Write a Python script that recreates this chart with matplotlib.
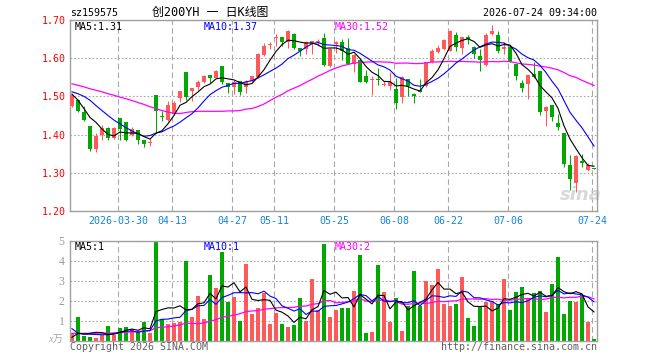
import numpy as np
import pandas as pd
import matplotlib
matplotlib.use("Agg")
import matplotlib.pyplot as plt

# daily bars for 159575, 2026-03-18 .. 2026-07-24
holidays = ["2026-04-06", "2026-05-01", "2026-05-04", "2026-05-05", "2026-06-19"]
dates = [d for d in pd.bdate_range("2026-03-18", "2026-07-24").strftime("%Y-%m-%d") if d not in holidays]

opens = [1.474, 1.490, 1.458, 1.422, 1.363, 1.400, 1.418, 1.392, 1.443, 1.432,
         1.400, 1.411, 1.385, 1.379, 1.503, 1.448, 1.438, 1.453, 1.497, 1.564,
         1.515, 1.524, 1.537, 1.556, 1.549, 1.580, 1.535, 1.525, 1.540, 1.524,
         1.540, 1.551, 1.609, 1.634, 1.654, 1.656, 1.642, 1.663, 1.626, 1.625,
         1.637, 1.643, 1.654, 1.579, 1.637, 1.642, 1.626, 1.584, 1.595, 1.553,
         1.542, 1.545, 1.531, 1.528, 1.519, 1.498, 1.546, 1.505, 1.516, 1.526,
         1.589, 1.616, 1.623, 1.619, 1.661, 1.626, 1.656, 1.630, 1.607, 1.582,
         1.663, 1.660, 1.623, 1.630, 1.586, 1.535, 1.533, 1.558, 1.567, 1.461,
         1.477, 1.430, 1.404, 1.321, 1.274, 1.330, 1.307, 1.313]
highs = [1.505, 1.493, 1.474, 1.422, 1.405, 1.426, 1.421, 1.421, 1.443, 1.432,
         1.420, 1.411, 1.385, 1.390, 1.503, 1.461, 1.488, 1.489, 1.514, 1.564,
         1.522, 1.543, 1.556, 1.556, 1.570, 1.580, 1.535, 1.543, 1.540, 1.543,
         1.554, 1.614, 1.640, 1.642, 1.663, 1.656, 1.675, 1.667, 1.626, 1.646,
         1.644, 1.651, 1.665, 1.626, 1.644, 1.649, 1.653, 1.612, 1.596, 1.570,
         1.553, 1.574, 1.540, 1.563, 1.547, 1.553, 1.546, 1.509, 1.546, 1.591,
         1.625, 1.635, 1.649, 1.675, 1.668, 1.656, 1.660, 1.633, 1.623, 1.665,
         1.686, 1.670, 1.642, 1.630, 1.586, 1.542, 1.556, 1.589, 1.567, 1.474,
         1.477, 1.453, 1.404, 1.346, 1.347, 1.349, 1.326, 1.313]
lows = [1.471, 1.459, 1.436, 1.356, 1.354, 1.386, 1.386, 1.389, 1.386, 1.382,
        1.396, 1.375, 1.367, 1.370, 1.403, 1.435, 1.435, 1.451, 1.486, 1.490,
        1.489, 1.518, 1.535, 1.535, 1.547, 1.532, 1.508, 1.505, 1.504, 1.510,
        1.537, 1.549, 1.607, 1.625, 1.633, 1.632, 1.626, 1.625, 1.607, 1.611,
        1.612, 1.633, 1.579, 1.578, 1.614, 1.594, 1.584, 1.563, 1.537, 1.535,
        1.503, 1.530, 1.526, 1.516, 1.467, 1.484, 1.500, 1.482, 1.512, 1.525,
        1.588, 1.614, 1.621, 1.618, 1.619, 1.612, 1.637, 1.600, 1.567, 1.580,
        1.661, 1.614, 1.612, 1.589, 1.542, 1.512, 1.493, 1.549, 1.451, 1.423,
        1.435, 1.411, 1.314, 1.256, 1.251, 1.314, 1.305, 1.309]
closes = [1.503, 1.461, 1.438, 1.362, 1.396, 1.416, 1.391, 1.417, 1.414, 1.385,
          1.414, 1.386, 1.375, 1.381, 1.462, 1.447, 1.477, 1.484, 1.514, 1.499,
          1.522, 1.539, 1.553, 1.548, 1.567, 1.537, 1.525, 1.539, 1.512, 1.539,
          1.553, 1.612, 1.633, 1.636, 1.655, 1.642, 1.670, 1.626, 1.618, 1.642,
          1.644, 1.644, 1.581, 1.623, 1.642, 1.619, 1.586, 1.609, 1.539, 1.539,
          1.543, 1.543, 1.532, 1.537, 1.482, 1.551, 1.526, 1.500, 1.512, 1.589,
          1.619, 1.628, 1.647, 1.672, 1.630, 1.656, 1.649, 1.612, 1.596, 1.661,
          1.672, 1.619, 1.630, 1.591, 1.553, 1.523, 1.556, 1.551, 1.458, 1.471,
          1.445, 1.419, 1.322, 1.285, 1.345, 1.325, 1.320, 1.311]
volumes = [0.37, 1.18, 0.23, 0.18, 0.15, 0.27, 0.73, 0.30, 0.63, 0.68,
           0.57, 0.42, 0.93, 0.38, 5.00, 1.07, 0.83, 0.90, 0.93, 4.00,
           1.20, 2.23, 1.10, 3.30, 2.63, 4.45, 1.93, 2.20, 1.00, 3.85,
           1.35, 1.65, 2.40, 0.85, 1.40, 0.83, 0.70, 0.80, 2.13, 1.00,
           3.08, 1.52, 4.83, 1.18, 1.53, 1.63, 1.63, 2.48, 4.28, 0.38,
           0.43, 3.78, 2.43, 0.93, 2.13, 0.48, 1.73, 3.48, 1.73, 2.98,
           2.78, 3.58, 1.83, 1.73, 1.83, 3.18, 1.13, 0.73, 1.68, 1.93,
           1.98, 1.83, 3.08, 1.53, 2.43, 2.68, 2.13, 2.38, 2.48, 1.43,
           2.83, 4.18, 1.33, 1.98, 1.93, 2.28, 0.93, 0.08]

# moving-average values before enough bars are on screen
ma5_head = [1.506, 1.490, 1.468, 1.445]
ma10_head = [1.512, 1.507, 1.500, 1.490, 1.476, 1.463, 1.450, 1.438, 1.428]
ma30_head = [1.533, 1.529, 1.525, 1.520, 1.516, 1.512, 1.507, 1.503, 1.498, 1.494,
             1.489, 1.484, 1.479, 1.473, 1.468, 1.463, 1.459, 1.456, 1.455, 1.458,
             1.460, 1.461, 1.461, 1.461, 1.461, 1.461, 1.462, 1.462, 1.463]
vma5_head = [0.17, 0.37, 0.33, 0.37]
vma10_head = [0.60, 0.38, 0.33, 0.32, 0.31, 0.30, 0.30, 0.36, 0.42]
vma30_head = [0.37, 0.37, 0.37, 0.37, 0.37, 0.38, 0.38, 0.39, 0.40, 0.42,
              0.44, 0.46, 0.48, 0.50, 0.65, 0.67, 0.70, 0.73, 0.80, 0.87,
              0.87, 0.85, 0.88, 0.98, 1.05, 1.17, 1.22, 1.28, 1.35]

tick_dates = ["2026-03-30", "2026-04-13", "2026-04-27", "2026-05-11", "2026-05-25",
              "2026-06-08", "2026-06-22", "2026-07-06", "2026-07-24"]

RED = "#ff5a5a"
GREEN = "#00a800"
GRAY = "#a8a8a8"
MONO = ["DejaVu Sans Mono", "Noto Sans CJK SC"]


def moving_avg(values, n, head):
    s = pd.Series(values).rolling(n).mean().to_numpy()
    s[:n - 1] = head
    return s


def trunc(v, digits):
    k = 10 ** digits
    return int(v * k + 1e-9) / k


o = np.array(opens)
c = np.array(closes)
x = np.arange(len(closes))
colors = np.where(c >= o, RED, GREEN)

ma5 = moving_avg(closes, 5, ma5_head)
ma10 = moving_avg(closes, 10, ma10_head)
ma30 = moving_avg(closes, 30, ma30_head)
vma5 = moving_avg(volumes, 5, vma5_head)
vma10 = moving_avg(volumes, 10, vma10_head)
vma30 = moving_avg(volumes, 30, vma30_head)

W, H = 660, 360
fig = plt.figure(figsize=(W / 100, H / 100), dpi=100)


def px_axes(l, t, r, b):
    return fig.add_axes([l / W, 1 - b / H, (r - l) / W, (b - t) / H])


def px_text(px, py, s, **kw):
    fig.text(px / W, 1 - py / H, s, **kw)


ax = px_axes(70.3, 20, 597, 211)
axv = px_axes(70.3, 240.7, 597, 340.7)

tick_pos = [dates.index(d) - 0.3 for d in tick_dates]
tick_labels = [tick_dates[0]] + [d[5:] for d in tick_dates[1:]]

for a in (ax, axv):
    a.set_xlim(-0.28, 87.5)
    a.set_xticks(tick_pos)
    a.tick_params(length=0)
    a.grid(True, axis="x", color=GRAY, lw=0.8, ls=(0, (5, 3)))
    a.grid(True, axis="y", color=GRAY, lw=0.8, ls=(0, (1.5, 1.8)))
    a.set_axisbelow(True)
    for sp in a.spines.values():
        sp.set_color("#a0a0a0")
        sp.set_linewidth(1.0)

# price panel
ax.vlines(x, lows, highs, colors=colors, lw=0.75, zorder=2)
ax.bar(x, np.maximum(np.abs(c - o), 0.0026), bottom=np.minimum(o, c),
       width=0.78, color=colors, linewidth=0, zorder=3)
ax.plot(x, ma30, color="#ff00ff", lw=0.9, zorder=4)
ax.plot(x, ma10, color="#0000ff", lw=0.8, zorder=4)
ax.plot(x, ma5, color="black", lw=0.8, zorder=5)
ax.set_ylim(1.20, 1.70)
ax.set_yticks([1.20, 1.30, 1.40, 1.50, 1.60, 1.70])
ax.set_yticklabels([f"{v:.2f}" for v in ax.get_yticks()], color="#ff0000",
                   family=MONO, fontsize=7.2)
ax.set_xticklabels(tick_labels, color="#1683d8", family=MONO, fontsize=7.2)
ax.tick_params(axis="y", pad=3.3)
ax.tick_params(axis="x", pad=3.6)
ax.text(84.8, 1.243, "sina", ha="center", va="center", fontsize=13,
        fontweight="bold", style="italic", color="#cfcfcf", alpha=0.8, zorder=1)

# volume panel
axv.bar(x, volumes, width=0.78, color=colors, linewidth=0, zorder=2)
axv.plot(x, vma30, color="#ff00ff", lw=0.9, zorder=3)
axv.plot(x, vma10, color="#0000ff", lw=0.8, zorder=3)
axv.plot(x, vma5, color="black", lw=0.8, zorder=4)
axv.set_ylim(0, 5)
axv.set_yticks([1, 2, 3, 4, 5])
axv.set_yticklabels(["1", "2", "3", "4", "5"], color="#9a9a9a",
                    family="Liberation Serif", fontsize=8.5)
axv.set_xticklabels([])
axv.tick_params(axis="y", pad=4)

# header and footer texts
px_text(70, 12.5, "sz159575", family=MONO, fontsize=7.2, va="center")
px_text(210, 12, "创200YH 一 日K线图", family=MONO, fontsize=8.6, ha="center", va="center")
px_text(597, 12.5, "2026-07-24 09:34:00", family=MONO, fontsize=7.2, ha="right", va="center")

px_text(75, 26.8, f"MA5:{trunc(ma5[-1], 2):.2f}", family=MONO, fontsize=7.2, va="center")
px_text(204, 26.8, f"MA10:{trunc(ma10[-1], 2):.2f}", family=MONO, fontsize=7.2,
        va="center", color="#0000ff")
px_text(335, 26.8, f"MA30:{trunc(ma30[-1], 2):.2f}", family=MONO, fontsize=7.2,
        va="center", color="#ff00ff")

px_text(75, 246.8, f"MA5:{int(vma5[-1])}", family=MONO, fontsize=7.2, va="center")
px_text(204, 246.8, f"MA10:{int(vma10[-1])}", family=MONO, fontsize=7.2,
        va="center", color="#0000ff")
px_text(335, 246.8, f"MA30:{int(vma30[-1])}", family=MONO, fontsize=7.2,
        va="center", color="#ff00ff")

px_text(63, 340, "x万", family=["Liberation Serif", "Noto Sans CJK SC"], fontsize=7.5,
        ha="right", va="center", color="#aaaaaa", style="italic")
px_text(70, 346.5, "Copyright 2026 SINA.COM", family=MONO, fontsize=7.2,
        va="center", color="#606060")
px_text(597, 346.5, "http://finance.sina.com.cn", family=MONO, fontsize=7.2,
        ha="right", va="center", color="#606060")

fig.savefig("out.png", dpi=100, facecolor="white")
